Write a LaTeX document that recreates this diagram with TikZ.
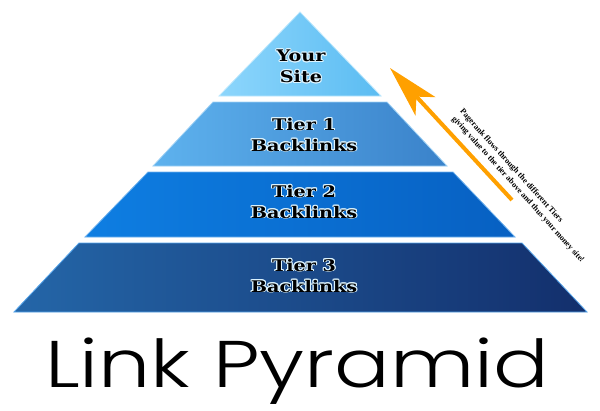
\documentclass[tikz,border=0pt]{standalone}
\usepackage{fontspec}
\setmainfont{DejaVu Serif}
\newfontfamily\notefont{Liberation Serif}
\newfontfamily\titlefont{Poppins Light}
\usepackage{contour}
\contourlength{0.9pt}
\contournumber{12}
\usetikzlibrary{arrows.meta}
\definecolor{topL}{HTML}{8DD6FC}
\definecolor{topR}{HTML}{5BBCF2}
\definecolor{oneL}{HTML}{5EB2EE}
\definecolor{oneR}{HTML}{3A82CA}
\definecolor{twoL}{HTML}{0E7EE2}
\definecolor{twoR}{HTML}{0760C2}
\definecolor{thrL}{HTML}{2466A8}
\definecolor{thrR}{HTML}{132F6C}
\definecolor{glowc}{HTML}{DDF4FF}
\definecolor{arrowc}{HTML}{FFA000}
\tikzset{
  tierlabel/.style={font=\bfseries\fontsize{16}{21}\selectfont, align=center, text=black, inner sep=0pt, xscale=1.2},
  notelabel/.style={font=\notefont\bfseries\fontsize{8.2}{10.8}\selectfont, align=left, text=black, inner sep=0pt, rotate=-48},
  titlelabel/.style={font=\titlefont\fontsize{66}{70}\selectfont, text=black, inner sep=0pt, xscale=1.25},
  flowarrow/.style={draw=arrowc, line width=4pt, -{Stealth[length=52pt, width=27pt, inset=13pt]}}
}
\newcommand{\gl}[1]{\contour{glowc}{#1}}
\begin{document}
\begin{tikzpicture}[x=1pt,y=-1pt]
\useasboundingbox (0,0) rectangle (600,410);
% pyramid tiers
\shade[left color=topL, right color=topR] (300,12) -- (381,96) -- (219,96) -- cycle;
\draw[topL!60!white, line width=0.8pt] (300,12) -- (381,96) -- (219,96) -- cycle;
\shade[left color=oneL, right color=oneR] (213,102) -- (387,102) -- (447,166) -- (153,166) -- cycle;
\draw[oneL!60!white, line width=0.8pt] (213,102) -- (387,102) -- (447,166) -- (153,166) -- cycle;
\shade[left color=twoL, right color=twoR] (148,172) -- (453,172) -- (515,237) -- (85,237) -- cycle;
\draw[twoL!60!white, line width=0.8pt] (148,172) -- (453,172) -- (515,237) -- (85,237) -- cycle;
\shade[left color=thrL, right color=thrR] (79,243) -- (522,243) -- (587,312) -- (14,312) -- cycle;
\draw[twoL!70!white, line width=0.8pt] (79,243) -- (522,243) -- (587,312) -- (14,312) -- cycle;
% labels
\node[tierlabel] (site) at (301,67) {\gl{Your}\\\gl{Site}};
\node[tierlabel] (tier1) at (304,135) {\gl{Tier 1}\\\gl{Backlinks}};
\node[tierlabel] (tier2) at (304,202) {\gl{Tier 2}\\\gl{Backlinks}};
\node[tierlabel] (tier3) at (304,276) {\gl{Tier 3}\\\gl{Backlinks}};
% arrow and note
\coordinate (atail) at (512,200);
\coordinate (atip) at (390,68);
\draw[flowarrow] (atail) -- (atip);
\node[notelabel] (note) at (522,186) {Pagerank flows through the different Tiers\\giving value to the tier above and thus your money site!};
% title
\node[titlelabel, anchor=base] (title) at (297,387) {Link Pyramid};
\end{tikzpicture}
\end{document}
